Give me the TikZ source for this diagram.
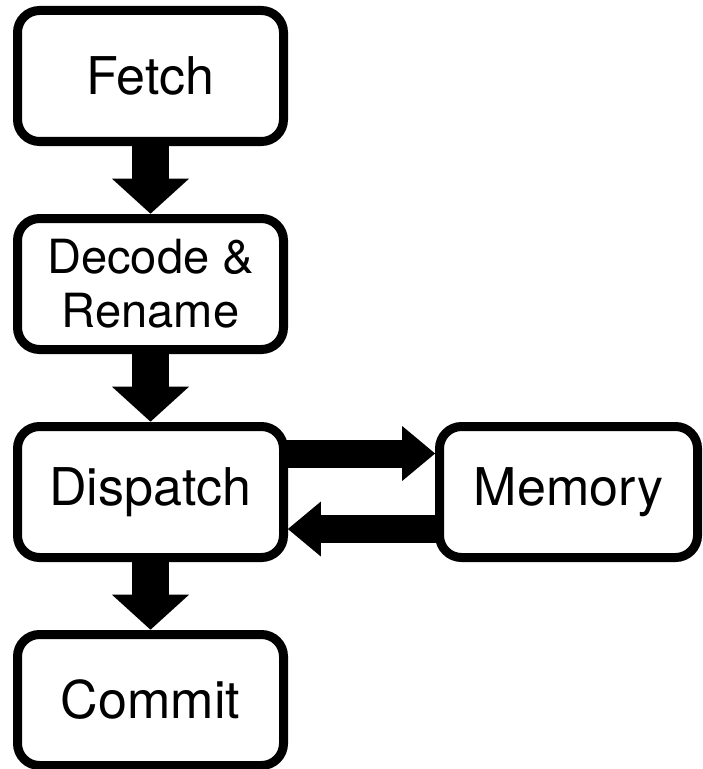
\documentclass[tikz,border=0pt]{standalone}
\usepackage{fontspec}
\setmainfont{TeX Gyre Heros}
\usetikzlibrary{arrows.meta,positioning}

\begin{document}
\begin{tikzpicture}[node distance=1.925cm,
  stage/.style={draw,line width=0.225cm,outer sep=0pt,rounded corners=0.55cm,fill=white,minimum width=6.65cm,minimum height=3.275cm,align=center,font=\fontsize{37}{44}\selectfont},
  flow/.style={line width=0.925cm,-{Triangle[length=0.875cm,width=1.925cm,line width=0pt]},shorten >=0.12cm},
  link/.style={line width=0.7cm,-{Triangle[length=0.825cm,width=1.375cm,line width=0pt]},shorten >=0.11cm}]
\useasboundingbox (0,0) rectangle (17.55,-19.225);
\node[stage] (fetch) at (3.7625,-1.9) {Fetch};
\node[stage,below=of fetch,font=\fontsize{33.5}{38.4}\selectfont] (decode) {Decode \&\\Rename};
\node[stage,below=of decode] (dispatch) {Dispatch};
\node[stage,below=of dispatch] (commit) {Commit};
\node[stage,right=3.9cm of dispatch,minimum width=6.45cm] (memory) {Memory};
\draw[flow] (fetch)--(decode); \draw[flow] (decode)--(dispatch); \draw[flow] (dispatch)--(commit);
\draw[link] ([yshift=0.9625cm]dispatch.east)--([yshift=0.9625cm]memory.west);
\draw[link] ([yshift=-0.925cm]memory.west)--([yshift=-0.925cm]dispatch.east);
\end{tikzpicture}
\end{document}
